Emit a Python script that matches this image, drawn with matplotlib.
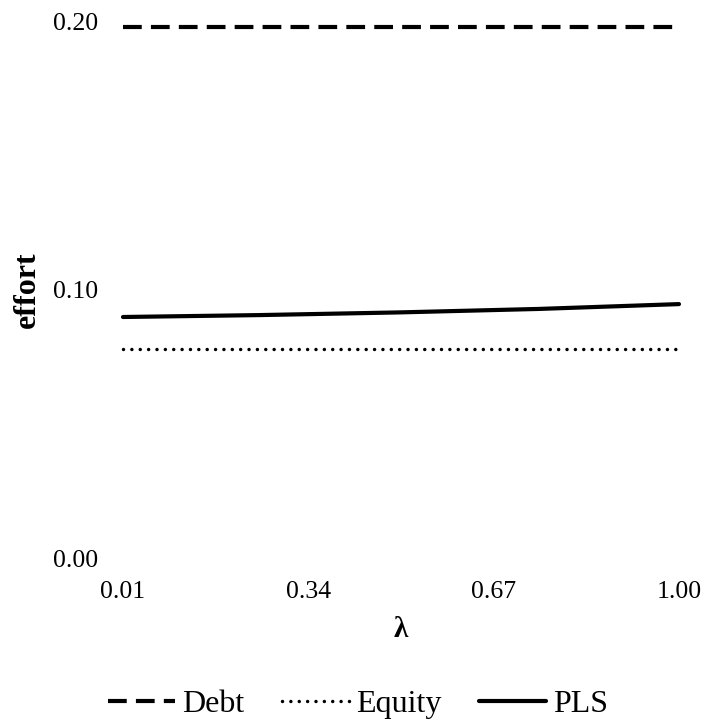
import numpy as np
import matplotlib
matplotlib.use('Agg')
import matplotlib.pyplot as plt
import matplotlib.transforms as mtransforms

plt.rcParams['font.family'] = ['Liberation Serif', 'DejaVu Serif']

# data
lam = [0.01, 0.25, 0.50, 0.75, 1.00]
debt = [0.200, 0.200, 0.200, 0.200, 0.200]
equity = [0.080, 0.080, 0.080, 0.080, 0.080]
pls = [0.0920, 0.0927, 0.0937, 0.0950, 0.0968]
xticks = [0.01, 0.34, 0.67, 1.00]
yticks = [0.00, 0.10, 0.20]

fig = plt.figure(figsize=(7.02, 7.22), dpi=100)
ax = fig.add_axes([0.1752, 0.2188, 0.7920, 0.7438])

ax.plot(lam, debt, color='black', lw=3.0, linestyle=(0, (4.5, 2.2)), clip_on=False, label='Debt')
ax.plot(lam, equity, color='black', lw=2.5, linestyle=(0, (0.01, 2.4)),
        dash_capstyle='round', clip_on=False, label='Equity')
ax.plot(lam, pls, color='black', lw=3.0, solid_capstyle='round', clip_on=False, label='PLS')

ax.set_xlim(0.01, 1.00)
ax.set_ylim(0.0, 0.20)
ax.set_xticks(xticks)
ax.set_xticklabels(['%.2f' % v for v in xticks])
ax.set_yticks(yticks)
ax.set_yticklabels(['%.2f' % v for v in yticks])
for s in ax.spines.values():
    s.set_visible(False)
ax.tick_params(axis='both', length=0, labelsize=18.5)
ax.tick_params(axis='y', pad=18)
ax.tick_params(axis='x', pad=12)

# shift y tick labels up a little, as in the reference
off = mtransforms.ScaledTranslation(0, 6/100., fig.dpi_scale_trans)
for t in ax.get_yticklabels():
    t.set_transform(t.get_transform() + off)

ax.set_ylabel('effort', fontsize=23, fontweight='bold')
ax.yaxis.set_label_coords(-0.145, 0.51)
ax.set_xlabel('λ', fontsize=21, fontweight='bold')
ax.xaxis.set_label_coords(0.5, -0.097)

leg = fig.legend(loc='center', bbox_to_anchor=(0.51, 18/722.), ncol=3, frameon=False,
                 fontsize=23, handlelength=2.1, handletextpad=0.2, columnspacing=1.2)

fig.savefig('out.png', dpi=100)
